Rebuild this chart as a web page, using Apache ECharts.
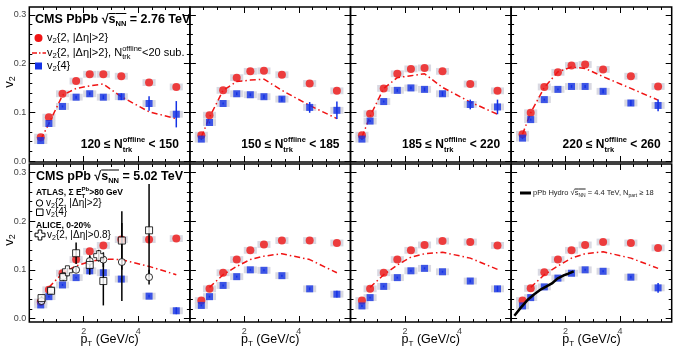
<!DOCTYPE html>
<html>
<head>
<meta charset="utf-8">
<script src="https://cdn.jsdelivr.net/npm/echarts@6/dist/echarts.min.js"></script>
<style>
  html, body { margin: 0; padding: 0; background: #fff; }
  #chart { width: 673px; height: 349px; }
</style>
</head>
<body>
<div id="chart"></div>
<script>
const FONT = '"Liberation Sans", Arial, Helvetica, sans-serif';
const RED = '#f01414';
const BLUE = '#1432e6';

// pT bin centres (GeV/c)
const pt = [0.42, 0.72, 1.22, 1.72, 2.22, 2.72, 3.38, 4.40, 5.40];

// PbPb 2.76 TeV, one row per multiplicity bin
const pbV22 = [
  [0.049, 0.090, 0.138, 0.164, 0.178, 0.178, 0.174, 0.161, 0.152],
  [0.053, 0.094, 0.145, 0.171, 0.184, 0.185, 0.177, 0.159, 0.144],
  [0.053, 0.097, 0.149, 0.179, 0.189, 0.191, 0.184, 0.158, 0.144],
  [0.055, 0.099, 0.152, 0.182, 0.196, 0.198, 0.188, 0.174, 0.153]
];
const pbV24 = [
  [0.042, 0.077, 0.112, 0.131, 0.138, 0.131, 0.132, 0.118, 0.096],
  [0.045, 0.079, 0.118, 0.138, 0.136, 0.132, 0.127, 0.110, 0.104],
  [0.045, 0.082, 0.122, 0.145, 0.150, 0.147, 0.138, 0.116, 0.111],
  [0.047, 0.085, 0.126, 0.147, 0.153, 0.153, 0.143, 0.119, 0.114]
];
const pbV24Err = [
  [0.002, 0.002, 0.002, 0.003, 0.003, 0.004, 0.007, 0.015, 0.027],
  [0.002, 0.002, 0.002, 0.003, 0.003, 0.004, 0.005, 0.011, 0.018],
  [0.002, 0.002, 0.002, 0.003, 0.003, 0.004, 0.005, 0.010, 0.015],
  [0.002, 0.002, 0.002, 0.002, 0.003, 0.003, 0.004, 0.006, 0.012]
];
const pbSub = [
  [0.044, 0.077, 0.135, 0.149, 0.154, 0.158, 0.132, 0.101, 0.087],
  [0.049, 0.090, 0.145, 0.163, 0.166, 0.168, 0.145, 0.114, 0.087],
  [0.049, 0.092, 0.149, 0.171, 0.175, 0.179, 0.151, 0.121, 0.096],
  [0.055, 0.099, 0.151, 0.183, 0.193, 0.190, 0.173, 0.149, 0.125]
];

// pPb 5.02 TeV
const ppV22 = [
  [0.034, 0.059, 0.093, 0.121, 0.138, 0.150, 0.162, 0.162, 0.164],
  [0.037, 0.061, 0.094, 0.121, 0.140, 0.152, 0.160, 0.160, 0.155],
  [0.037, 0.061, 0.094, 0.121, 0.140, 0.151, 0.159, 0.157, 0.150],
  [0.037, 0.062, 0.095, 0.121, 0.140, 0.151, 0.157, 0.155, 0.145]
];
const ppV24 = [
  [0.028, 0.045, 0.069, 0.084, 0.098, 0.094, 0.081, 0.046, 0.016],
  [0.027, 0.045, 0.068, 0.086, 0.100, 0.099, 0.088, 0.061, 0.050],
  [0.026, 0.043, 0.066, 0.084, 0.098, 0.103, 0.096, 0.077, 0.061],
  [0.026, 0.043, 0.065, 0.083, 0.093, 0.100, 0.097, 0.085, 0.063]
];
const ppV24Err = [
  [0.002, 0.002, 0.002, 0.002, 0.002, 0.002, 0.002, 0.003, 0.007],
  [0.002, 0.002, 0.002, 0.002, 0.002, 0.002, 0.002, 0.003, 0.007],
  [0.002, 0.002, 0.002, 0.002, 0.002, 0.002, 0.002, 0.003, 0.006],
  [0.002, 0.002, 0.002, 0.002, 0.002, 0.002, 0.002, 0.003, 0.010]
];
const ppSub = [
  [null, 0.064, 0.093, 0.108, 0.117, 0.122, 0.121, 0.107, 0.090],
  [null, 0.064, 0.090, 0.107, 0.121, 0.128, 0.133, 0.121, 0.094],
  [null, 0.064, 0.090, 0.110, 0.126, 0.133, 0.136, 0.124, 0.101],
  [null, 0.064, 0.090, 0.108, 0.124, 0.133, 0.137, 0.124, 0.103]
];

// ATLAS / ALICE pPb points (first bottom panel)
const atlasPt = [0.45, 0.80, 1.25, 1.72, 2.22, 2.72, 3.40, 4.40];
const atlasV22 = [0.036, 0.058, 0.087, 0.100, 0.118, 0.121, 0.116, 0.085];
const atlasV22Err = [0.002, 0.003, 0.004, 0.006, 0.010, 0.015, 0.080, 0.015];
const atlasV24 = [0.042, 0.057, 0.085, 0.134, 0.110, 0.077, 0.160, 0.181];
const atlasV24Err = [0.004, 0.005, 0.008, 0.022, 0.020, 0.050, 0.060, 0.095];
const alicePt = [1.40, 2.55];
const aliceV22 = [0.098, 0.129];
const aliceErr = [0.006, 0.012];

// hydro curve (last bottom panel)
const hydroPt = [0.12, 0.35, 0.60, 0.85, 1.10, 1.30, 1.50, 1.70, 1.95, 2.10, 2.30];
const hydroV2 = [0.006, 0.022, 0.038, 0.050, 0.060, 0.066, 0.072, 0.082, 0.089, 0.092, 0.097];

const nRanges = [['120', '150'], ['150', '185'], ['185', '220'], ['220', '260']];

const xMajor = [2, 4];
const xMinor = [0.5, 1, 1.5, 2.5, 3, 3.5, 4.5, 5, 5.5];
const yMajor = [0, 0.1, 0.2, 0.3];
const yMinor = [0.02, 0.04, 0.06, 0.08, 0.12, 0.14, 0.16, 0.18, 0.22, 0.24, 0.26, 0.28];

// layout
const colLeft = [29.3, 189.9, 350.5, 511.1];
const colW = 160.6;
const rowTop = [7, 164];
const rowH = [155, 158];
const yRange = [[-0.002, 0.316], [-0.007, 0.317]];

const pairs = (xs, ys) => xs.map((x, i) => [x, ys[i]]).filter(p => p[1] != null);

const grids = [], xAxis = [], yAxis = [], series = [];

function addAxes(gi, r, c) {
  const xb = { type: 'value', gridIndex: gi, min: 0, max: 5.9, splitLine: { show: false },
    axisLine: { show: false, onZero: false } };
  const yb = { type: 'value', gridIndex: gi, min: yRange[r][0], max: yRange[r][1], splitLine: { show: false },
    axisLine: { show: false, onZero: false } };
  const tick = (vals, len) => ({ inside: true, length: len, customValues: vals, lineStyle: { color: '#000', width: 1 } });
  const none = { show: false };
  xAxis.push(Object.assign({}, xb, { position: 'bottom', axisTick: tick(xMajor, 6),
    axisLabel: { show: r === 1, customValues: xMajor, fontSize: 9, color: '#444', margin: 5, fontFamily: FONT } }));
  xAxis.push(Object.assign({}, xb, { position: 'bottom', axisTick: tick(xMinor, 3), axisLabel: none }));
  xAxis.push(Object.assign({}, xb, { position: 'top', axisTick: tick(xMajor, 6), axisLabel: none }));
  xAxis.push(Object.assign({}, xb, { position: 'top', axisTick: tick(xMinor, 3), axisLabel: none }));
  yAxis.push(Object.assign({}, yb, { position: 'left', axisTick: tick(yMajor, 6),
    axisLabel: { show: c === 0, customValues: yMajor, fontSize: 9, color: '#444', margin: 3, fontFamily: FONT,
      formatter: v => v.toFixed(1) } }));
  yAxis.push(Object.assign({}, yb, { position: 'left', axisTick: tick(yMinor, 3), axisLabel: none }));
  yAxis.push(Object.assign({}, yb, { position: 'right', axisTick: tick(yMajor, 6), axisLabel: none }));
  yAxis.push(Object.assign({}, yb, { position: 'right', axisTick: tick(yMinor, 3), axisLabel: none }));
}

function boxRender(params, api) {
  const a = api.coord([api.value(0) - 0.24, api.value(1) + 0.007]);
  const b = api.coord([api.value(0) + 0.24, api.value(1) - 0.007]);
  return { type: 'rect', shape: { x: a[0], y: a[1], width: b[0] - a[0], height: b[1] - a[1] },
    style: { fill: api.visual('color') } };
}
function errRender(params, api) {
  const x = api.value(0), y = api.value(1), e = api.value(2);
  const p1 = api.coord([x, y - e]), p2 = api.coord([x, y + e]);
  return { type: 'line', shape: { x1: p1[0], y1: p1[1], x2: p2[0], y2: p2[1] },
    style: { stroke: api.visual('color'), lineWidth: 1.5 } };
}

for (let r = 0; r < 2; r++) {
  for (let c = 0; c < 4; c++) {
    const gi = r * 4 + c, ax = gi * 4;
    grids.push({ left: colLeft[c], top: rowTop[r], width: colW, height: rowH[r], show: true,
      borderColor: '#000', borderWidth: 1.5, backgroundColor: 'transparent', outerBoundsMode: 'none' });
    addAxes(gi, r, c);
    const v22 = r ? ppV22[c] : pbV22[c];
    const v24 = r ? ppV24[c] : pbV24[c];
    const v24e = r ? ppV24Err[c] : pbV24Err[c];
    const sub = r ? ppSub[c] : pbSub[c];
    const base = { xAxisIndex: ax, yAxisIndex: ax, silent: true };
    series.push(Object.assign({}, base, { type: 'custom', renderItem: boxRender, z: 1,
      data: pairs(pt, v22).concat(pairs(pt, v24)), encode: { x: 0, y: 1 }, itemStyle: { color: '#d9d9e2' } }));
    series.push(Object.assign({}, base, { type: 'line', data: pairs(pt, sub), symbol: 'none', z: 2,
      lineStyle: { color: RED, width: 1.5, type: [6, 3, 1.5, 3] } }));
    series.push(Object.assign({}, base, { type: 'custom', renderItem: errRender, z: 3,
      data: pt.map((x, i) => [x, v24[i], v24e[i]]), encode: { x: 0, y: 1 }, itemStyle: { color: BLUE } }));
    series.push(Object.assign({}, base, { type: 'scatter', data: pairs(pt, v22), symbol: 'circle',
      symbolSize: 8, z: 4, itemStyle: { color: RED } }));
    series.push(Object.assign({}, base, { type: 'scatter', data: pairs(pt, v24), symbol: 'rect',
      symbolSize: 7, z: 4, itemStyle: { color: BLUE } }));

    if (gi === 4) {
      series.push(Object.assign({}, base, { type: 'custom', renderItem: errRender, z: 5,
        data: atlasPt.map((x, i) => [x, atlasV24[i], atlasV24Err[i]])
          .concat(atlasPt.map((x, i) => [x, atlasV22[i], atlasV22Err[i]]))
          .concat(alicePt.map((x, i) => [x, aliceV22[i], aliceErr[i]])),
        encode: { x: 0, y: 1 }, itemStyle: { color: '#000' } }));
      series.push(Object.assign({}, base, { type: 'scatter', data: pairs(atlasPt, atlasV22), symbol: 'circle',
        symbolSize: 7, z: 6, itemStyle: { color: '#fff', borderColor: '#000', borderWidth: 1 } }));
      series.push(Object.assign({}, base, { type: 'scatter', data: pairs(atlasPt, atlasV24), symbol: 'rect',
        symbolSize: 7, z: 6, itemStyle: { color: '#fff', borderColor: '#000', borderWidth: 1 } }));
      series.push(Object.assign({}, base, { type: 'scatter', data: pairs(alicePt, aliceV22),
        symbol: 'path://M3,0H7V3H10V7H7V10H3V7H0V3H3Z', symbolSize: 10, z: 6,
        itemStyle: { color: '#fff', borderColor: '#000', borderWidth: 1 } }));
    }
    if (gi === 7) {
      series.push(Object.assign({}, base, { type: 'line', data: pairs(hydroPt, hydroV2), symbol: 'none', z: 6,
        lineStyle: { color: '#000', width: 2.5 } }));
    }
  }
}

// rich-ish text built from positioned pieces
const ctx = document.createElement('canvas').getContext('2d');
function tw(s) {
  ctx.font = (s.b ? 'bold ' : '') + s.fs + 'px ' + FONT;
  return ctx.measureText(s.t).width;
}
function rtext(x, y, segs, align, color) {
  let cur = 0, start = 0;
  const items = [];
  segs.forEach(s => {
    const w = tw(s);
    let sx;
    if (s.stack) { sx = start; cur = Math.max(cur, sx + w); }
    else { sx = cur; start = sx; cur = sx + w; }
    items.push([s, sx, w]);
  });
  const off = align === 'right' ? -cur : align === 'center' ? -cur / 2 : 0;
  const out = [];
  items.forEach(([s, sx, w]) => {
    out.push({ type: 'text', x: x + off + sx, y: y + (s.dy || 0), silent: true, z: 100,
      style: { text: s.t, fontSize: s.fs, fontWeight: s.b ? 'bold' : 'normal', fontFamily: FONT,
        fill: color || '#000', textAlign: 'left', align: 'left', textVerticalAlign: 'middle', verticalAlign: 'middle' } });
    if (s.ol !== undefined) {
      out.push({ type: 'line', silent: true, z: 100,
        shape: { x1: x + off + sx, y1: y + s.ol, x2: x + off + sx + w, y2: y + s.ol },
        style: { stroke: color || '#000', lineWidth: 1 } });
    }
  });
  return out;
}

const g = [];
// titles
const title = (x, y, sys, energy) => rtext(x, y, [
  { t: 'CMS ' + sys + ' ', fs: 12.5, b: 1 },
  { t: '√', fs: 12.5, b: 1 },
  { t: 's', fs: 12.5, b: 1, ol: -6.5 },
  { t: 'NN', fs: 7.5, b: 1, dy: 4, ol: -6.5 },
  { t: ' = ' + energy + ' TeV', fs: 12.5, b: 1 }
]);
g.push(...title(35, 20, 'PbPb', '2.76'));
g.push(...title(36, 176.5, 'pPb', '5.02'));

// PbPb legend
const v2seg = (fs, txt) => [{ t: 'v', fs: fs }, { t: '2', fs: fs * 0.7, dy: 3 }, { t: txt, fs: fs }];
g.push({ type: 'circle', shape: { cx: 38.5, cy: 38, r: 4 }, style: { fill: RED }, silent: true, z: 100 });
g.push(...rtext(47, 38, v2seg(11, '{2, |Δη|>2}')));
g.push({ type: 'line', shape: { x1: 32, y1: 53, x2: 46, y2: 53 }, silent: true, z: 100,
  style: { stroke: RED, lineWidth: 1.5, lineDash: [5, 2, 1.5, 2] } });
g.push(...rtext(47, 53, v2seg(11, '{2, |Δη|>2}, N').concat([
  { t: 'offline', fs: 7.5, dy: -4.5 }, { t: 'trk', fs: 7.5, dy: 4, stack: 1 }, { t: '<20 sub.', fs: 11 }])));
g.push({ type: 'rect', shape: { x: 35, y: 62.5, width: 7, height: 7 }, style: { fill: BLUE }, silent: true, z: 100 });
g.push(...rtext(47, 66, v2seg(11, '{4}')));

// multiplicity labels
for (let c = 0; c < 4; c++) {
  g.push(...rtext(colLeft[c] + colW - 11, 145, [
    { t: nRanges[c][0] + ' ≤ N', fs: 12, b: 1 },
    { t: 'offline', fs: 7.5, b: 1, dy: -5 },
    { t: 'trk', fs: 7.5, b: 1, dy: 4.5, stack: 1 },
    { t: ' < ' + nRanges[c][1], fs: 12, b: 1 }
  ], 'right'));
}

// ATLAS / ALICE legend
g.push(...rtext(36, 193, [
  { t: 'ATLAS, Σ E', fs: 8.5, b: 1 },
  { t: 'Pb', fs: 6, b: 1, dy: -3.5 },
  { t: 'T', fs: 6, b: 1, dy: 3, stack: 1 },
  { t: '>80 GeV', fs: 8.5, b: 1 }
]));
g.push({ type: 'circle', shape: { cx: 39.5, cy: 203, r: 3.2 }, style: { fill: '#fff', stroke: '#000', lineWidth: 1 }, silent: true, z: 100 });
g.push(...rtext(46, 203, v2seg(10, '{2, |Δη|>2}')));
g.push({ type: 'rect', shape: { x: 36.5, y: 209, width: 6.5, height: 6.5 }, style: { fill: '#fff', stroke: '#000', lineWidth: 1 }, silent: true, z: 100 });
g.push(...rtext(46, 212.5, v2seg(10, '{4}')));
g.push(...rtext(36, 225.5, [{ t: 'ALICE, 0-20%', fs: 8.5, b: 1 }]));
(function () {
  const cx = 40, cy = 235, a = 1.8, L = 5;
  g.push({ type: 'polygon', silent: true, z: 100, style: { fill: '#fff', stroke: '#000', lineWidth: 1 },
    shape: { points: [[cx - a, cy - L], [cx + a, cy - L], [cx + a, cy - a], [cx + L, cy - a], [cx + L, cy + a],
      [cx + a, cy + a], [cx + a, cy + L], [cx - a, cy + L], [cx - a, cy + a], [cx - L, cy + a], [cx - L, cy - a], [cx - a, cy - a]] } });
})();
g.push(...rtext(47, 235, v2seg(10, '{2, |Δη|>0.8}')));

// hydro legend
g.push({ type: 'line', shape: { x1: 520, y1: 193, x2: 531, y2: 193 }, style: { stroke: '#000', lineWidth: 3 }, silent: true, z: 100 });
g.push(...rtext(533, 193, [
  { t: 'pPb Hydro ', fs: 7.5 },
  { t: '√', fs: 7.5 },
  { t: 's', fs: 7.5, ol: -4 },
  { t: 'NN', fs: 5, dy: 2.5, ol: -4 },
  { t: ' = 4.4 TeV, N', fs: 7.5 },
  { t: 'part', fs: 5, dy: 2.5 },
  { t: ' ≥ 18', fs: 7.5 }
], 'left', '#222'));

// axis titles
[82, 240].forEach(yc => {
  g.push({ type: 'group', x: 9, y: yc, rotation: Math.PI / 2, silent: true, z: 100,
    children: rtext(0, 0, [{ t: 'v', fs: 13 }, { t: '2', fs: 9, dy: 4 }], 'center') });
});
for (let c = 0; c < 4; c++) {
  g.push(...rtext(colLeft[c] + colW / 2, 340, [
    { t: 'p', fs: 12.5 }, { t: 'T', fs: 8, dy: 4 }, { t: ' (GeV/c)', fs: 12.5 }
  ], 'center'));
}

const chart = echarts.init(document.getElementById('chart'));
chart.setOption({
  animation: false,
  textStyle: { fontFamily: FONT },
  grid: grids,
  xAxis: xAxis,
  yAxis: yAxis,
  series: series,
  graphic: { elements: g }
});
</script>
</body>
</html>
